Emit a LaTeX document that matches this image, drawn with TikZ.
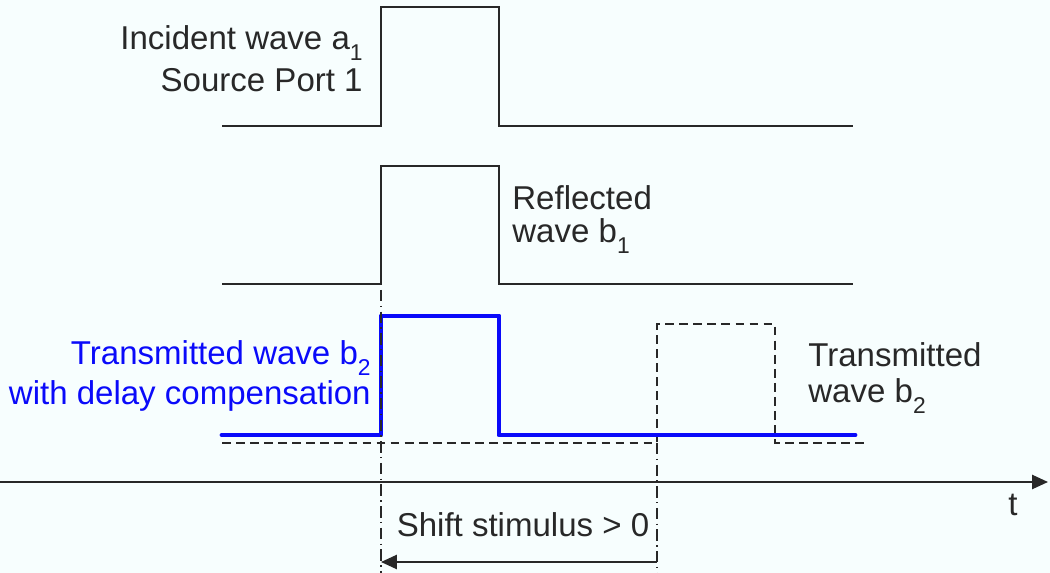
\documentclass[tikz,border=0pt]{standalone}
\usepackage{fontspec}
\setmainfont{Liberation Sans}
\usetikzlibrary{arrows.meta}
\definecolor{bg}{RGB}{247,254,254}
\definecolor{ink}{RGB}{40,40,40}
\definecolor{wblue}{RGB}{10,10,250}
\newcommand{\lsub}[1]{\raisebox{-6pt}{\fontsize{13}{13}\selectfont #1}}
\begin{document}
\begin{tikzpicture}[x=0.02cm,y=-0.02cm,
  wave/.style={draw=ink, line width=1.1pt},
  bluewave/.style={draw=wblue, line width=2.8pt, line cap=round, line join=round},
  dashwave/.style={draw=ink, line width=1pt, dash pattern=on 5pt off 3pt},
  guide/.style={draw=ink, line width=0.9pt, dash pattern=on 6.5pt off 2.5pt on 0.8pt off 2.5pt},
  lbl/.style={font=\fontsize{18.8}{21}\selectfont, text=ink, inner sep=0pt},
  bluelbl/.style={lbl, text=wblue},
  arr/.style={draw=ink, line width=1.1pt, -{Triangle[length=9pt,width=8pt]}}]
\fill[bg] (0,0) rectangle (1050,573);
\useasboundingbox (0,0) rectangle (1050,573);
% waveforms
\draw[wave] (222,126) -- (381,126) -- (381,7) -- (499,7) -- (499,126) -- (853,126);
\draw[wave] (222,284) -- (381,284) -- (381,166) -- (499,166) -- (499,284) -- (853,284);
\draw[dashwave] (222,443) -- (657,443) -- (657,324) -- (775,324) -- (775,443) -- (867,443);
\draw[bluewave] (222,435) -- (381,435) -- (381,316) -- (499,316) -- (499,435) -- (855,435);
% guides
\coordinate (gl) at (381,290);
\coordinate (gr) at (657,443);
\coordinate (gla) at (381,573);
\coordinate (gra) at (657,573);
\draw[guide] (gl) -- (gla);
\draw[guide] (gr) -- (gra);
% time axis
\coordinate (ax0) at (0,482);
\coordinate (ax1) at (1048,482);
\draw[arr] (ax0) -- (ax1);
\node[lbl] (t) at (1013,505) {t};
% shift arrow
\coordinate (sr) at (657,562);
\coordinate (sl) at (381,562);
\draw[arr] (sr) -- (sl);
\node[lbl] (shift) at (523,525) {Shift stimulus > 0};
% labels
\node[lbl, anchor=base east] (inc1) at (363,50) {Incident wave a\lsub{1}};
\node[lbl, anchor=base east] (inc2) at (363,92) {Source Port 1};
\node[lbl, anchor=base west] (ref1) at (512,210) {Reflected};
\node[lbl, anchor=base west] (ref2) at (512,243) {wave b\lsub{1}};
\node[bluelbl, anchor=base east] (tc1) at (371,365) {Transmitted wave b\lsub{2}};
\node[bluelbl, anchor=base east] (tc2) at (371,405) {with delay compensation};
\node[lbl, anchor=base west] (tr1) at (808,367) {Transmitted};
\node[lbl, anchor=base west] (tr2) at (808,403) {wave b\lsub{2}};
\end{tikzpicture}
\end{document}
